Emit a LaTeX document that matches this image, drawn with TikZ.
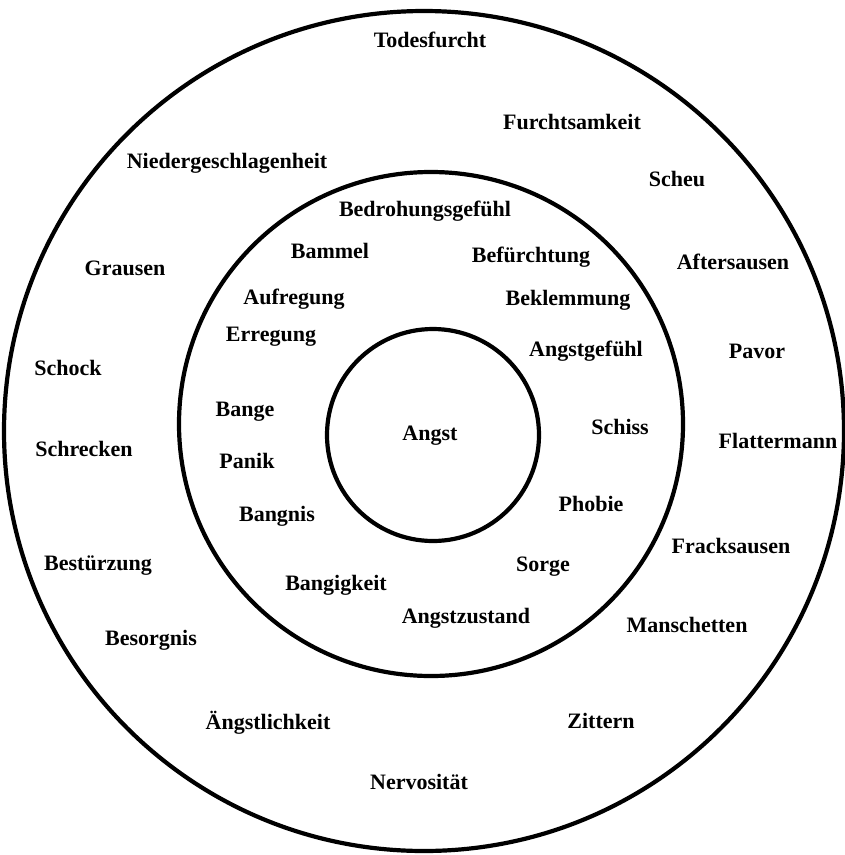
\documentclass[tikz,border=0pt]{standalone}
\usepackage{fontspec}
\setmainfont{Liberation Serif}
\usetikzlibrary{positioning}
\tikzstyle{ring} = [line width=4.2pt, draw=black]
\tikzstyle{word} = [font=\fontsize{22}{24}\selectfont\bfseries, inner sep=0pt]

\begin{document}
\begin{tikzpicture}[x=1pt, y=-1pt]
  \useasboundingbox (0,0) rectangle (845,855);
  % rings
  \draw [ring] (424,431) circle (420);
  \draw [ring] (431,424) circle (252);
  \draw [ring] (433,435) circle (106);
  % centre
  \node (angst) [word] at (430,436) {Angst};
  % inner ring
  \node (bedrohung) [word] at (425,211) {Bedrohungsgefühl};
  \node (bammel) [word] at (330,251) {Bammel};
  \node (befuercht) [word] at (531,257) {Befürchtung};
  \node (aufregung) [word] at (294,299) {Aufregung};
  \node (beklemm) [word] at (568,300) {Beklemmung};
  \node (erregung) [word] at (271,337) {Erregung};
  \node (angstgef) [word] at (586,351) {Angstgefühl};
  \node (bange) [word] at (245,412) {Bange};
  \node (schiss) [word] at (620,427) {Schiss};
  \node (panik) [word] at (247,461) {Panik};
  \node (phobie) [word] at (591,504) {Phobie};
  \node (bangnis) [word] at (277,516) {Bangnis};
  \node (sorge) [word] at (543,567) {Sorge};
  \node (bangigk) [word] at (336,585) {Bangigkeit};
  \node (angstzust) [word] at (466,618) {Angstzustand};
  % outer ring
  \node (todes) [word] at (430,40) {Todesfurcht};
  \node (furchts) [word] at (572,122) {Furchtsamkeit};
  \node (nieder) [word] at (227,163) {Niedergeschlagenheit};
  \node (scheu) [word] at (677,179) {Scheu};
  \node (grausen) [word] at (125,268) {Grausen};
  \node (afters) [word] at (733,262) {Aftersausen};
  \node (pavor) [word] at (757,351) {Pavor};
  \node (schock) [word] at (68,368) {Schock};
  \node (flatter) [word] at (778,441) {Flattermann};
  \node (schreck) [word] at (84,449) {Schrecken};
  \node (fracks) [word] at (731,546) {Fracksausen};
  \node (bestuerz) [word] at (98,566) {Bestürzung};
  \node (manschet) [word] at (687,625) {Manschetten};
  \node (besorg) [word] at (151,640) {Besorgnis};
  \node (aengstl) [word] at (268,723) {Ängstlichkeit};
  \node (zittern) [word] at (601,721) {Zittern};
  \node (nervos) [word] at (419,782) {Nervosität};
\end{tikzpicture}
\end{document}
